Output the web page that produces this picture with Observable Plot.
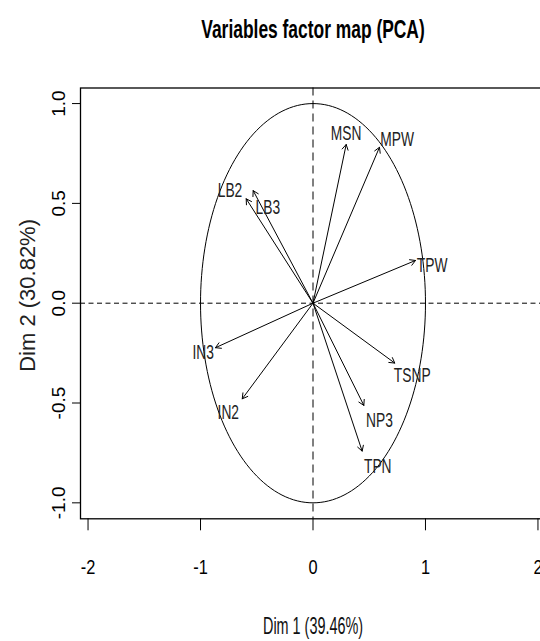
<!DOCTYPE html>
<html><head><meta charset="utf-8">
<script src="https://cdn.jsdelivr.net/npm/d3@7"></script>
<script src="https://cdn.jsdelivr.net/npm/@observablehq/plot@0.6"></script>
<style>
html,body{margin:0;padding:0;background:#fff;overflow:hidden;}
</style></head><body><div id="chart"></div>
<script>
const variables = ["MSN","MPW","LB2","LB3","TPW","IN3","IN2","TSNP","NP3","TPN"];
const dim1 = [0.295, 0.591, -0.594, -0.532, 0.911, -0.867, -0.629, 0.727, 0.452, 0.437];
const dim2 = [0.795, 0.781, 0.523, 0.564, 0.214, -0.223, -0.479, -0.300, -0.512, -0.741];
const labelDim1 = [0.295, 0.748, -0.738, -0.402, 1.059, -0.976, -0.753, 0.882, 0.591, 0.576];
const labelDim2 = [0.848, 0.818, 0.564, 0.481, 0.189, -0.245, -0.550, -0.362, -0.588, -0.821];
const xTicks = [-2, -1, 0, 1, 2];
const yTicks = [-1, -0.5, 0, 0.5, 1];
const yTickLabels = ["-1.0", "-0.5", "0.0", "0.5", "1.0"];
const title = "Variables factor map (PCA)";
const xLabel = "Dim 1 (39.46%)";
const yLabel = "Dim 2 (30.82%)";

const rows = variables.map((v, i) => ({v, x0: 0, y0: 0, x: dim1[i], y: dim2[i], lx: labelDim1[i], ly: labelDim2[i]}));
const circle = d3.range(0, 361, 2).map(a => ({cx: Math.cos(a * Math.PI / 180), cy: Math.sin(a * Math.PI / 180)}));
const FONT = "'Liberation Sans', Arial, Helvetica, sans-serif";

const chart = Plot.plot({
  width: 540, height: 641,
  marginLeft: 80, marginRight: -5, marginTop: 87.5, marginBottom: 122.7,
  x: {domain: [-2.067, 2.067]},
  y: {domain: [-1.08, 1.078]},
  style: {fontFamily: FONT, background: "#fff", color: "#000"},
  marks: [
    Plot.ruleY([0], {stroke: "#000", strokeWidth: 1, strokeDasharray: "5,3.5"}),
    Plot.ruleX([0], {stroke: "#000", strokeWidth: 1, strokeDasharray: "8,5"}),
    Plot.line(circle, {x: "cx", y: "cy", stroke: "#000", strokeWidth: 1}),
    Plot.arrow(rows, {x1: "x0", y1: "y0", x2: "x", y2: "y", stroke: "#000", strokeWidth: 1, headLength: 9}),
    Plot.text(rows, {x: "lx", y: "ly", text: "v", fontSize: 20, fill: "#222"}),
    Plot.frame({stroke: "#000", strokeWidth: 1.3}),
    Plot.axisX(xTicks, {tickSize: 12, tickPadding: 28, fontSize: 21, tickFormat: d => String(d)}),
    Plot.axisY(yTicks, {tickSize: 8, tickPadding: 8, tickRotate: -90, fontSize: 19, tickFormat: d => yTickLabels[yTicks.indexOf(d)]}),
    Plot.text([xLabel], {frameAnchor: "bottom", dy: 108, lineAnchor: "middle", textAnchor: "middle", fontSize: 24, fill: "#111"}),
    Plot.text([yLabel], {frameAnchor: "left", dx: -53, dy: -8, rotate: -90, lineAnchor: "middle", textAnchor: "middle", fontSize: 22, fill: "#222"}),
    Plot.text([title], {frameAnchor: "top", dy: -58.8, lineAnchor: "middle", textAnchor: "middle", fontSize: 26, fontWeight: "bold", fill: "#000"})
  ]
});
document.getElementById("chart").appendChild(chart);

// Horizontally condense text around its own centre, as in the reference picture
function squeezeGroup(g, sx) {
  if (!g) return;
  const svgRect = chart.getBoundingClientRect();
  Array.from(g.querySelectorAll("text")).forEach(t => {
    const r = t.getBoundingClientRect();
    const px = r.x + r.width / 2 - svgRect.x, py = r.y + r.height / 2 - svgRect.y;
    const parent = t.parentNode;
    const m = parent.getCTM().inverse();
    const cx = m.a * px + m.c * py + m.e, cy = m.b * px + m.d * py + m.f;
    const w = document.createElementNS("http://www.w3.org/2000/svg", "g");
    w.setAttribute("transform", `translate(${cx},${cy}) scale(${sx},1) translate(${-cx},${-cy})`);
    parent.insertBefore(w, t);
    w.appendChild(t);
  });
}
const textGroups = Array.from(chart.querySelectorAll('g[aria-label="text"]'));
squeezeGroup(textGroups[0], 0.69);   // variable labels
squeezeGroup(textGroups[1], 0.6);    // x title
squeezeGroup(textGroups[3], 0.67);   // main title
squeezeGroup(chart.querySelector('g[aria-label="x-axis tick label"]'), 0.78);
</script></body></html>
